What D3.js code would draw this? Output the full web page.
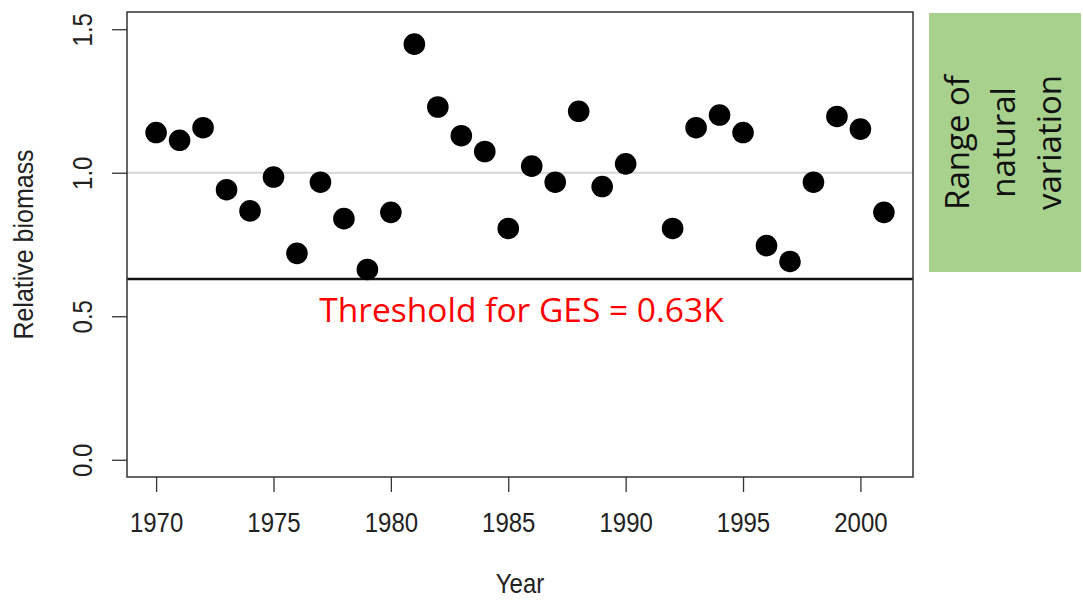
<!DOCTYPE html>
<html><head><meta charset="utf-8">
<script src="https://cdn.jsdelivr.net/npm/d3@7"></script>
<style>body{margin:0;background:#fff}svg{display:block}</style>
</head><body>
<svg id="c" width="1083" height="601"></svg>
<script>
const years = [1970,1971,1972,1973,1974,1975,1976,1977,1978,1979,1980,1981,1982,1983,1984,1985,1986,1987,1988,1989,1990,1992,1993,1994,1995,1996,1997,1998,1999,2000,2001];
const biomass = [1.140,1.113,1.157,0.941,0.867,0.985,0.719,0.967,0.840,0.663,0.862,1.448,1.229,1.129,1.074,0.806,1.023,0.967,1.214,0.952,1.031,0.806,1.157,1.201,1.140,0.746,0.691,0.967,1.196,1.152,0.862];
const xTicks = [1970,1975,1980,1985,1990,1995,2000];
const yTicks = [0.0,0.5,1.0,1.5];
const referenceLevel = 1.0;
const threshold = 0.63;
const thresholdLabel = "Threshold for GES = 0.63K";
const boxLines = ["Range of","natural","variation"];

const svg = d3.select("#c");
const L=127,R=913,T=12,B=477;
const FONT = "Liberation Sans, Arial, sans-serif";
const x = d3.scaleLinear().domain([1968.76,2002.24]).range([L,R]);
const y = d3.scaleLinear().domain([-0.06,1.56]).range([B,T]);

// reference line at 1.0
svg.append("line").attr("x1",L).attr("x2",R).attr("y1",y(referenceLevel)).attr("y2",y(referenceLevel))
  .attr("stroke","#d6d6d6").attr("stroke-width",2);
// threshold line
svg.append("line").attr("x1",L).attr("x2",R).attr("y1",y(threshold)).attr("y2",y(threshold))
  .attr("stroke","#111").attr("stroke-width",2.5);

// points
svg.append("g").selectAll("circle").data(years.map((d,i)=>[d,biomass[i]])).join("circle")
  .attr("cx",d=>x(d[0])).attr("cy",d=>y(d[1])).attr("r",10.8).attr("fill","#000");

// box
svg.append("rect").attr("x",L).attr("y",T).attr("width",R-L).attr("height",B-T)
  .attr("fill","none").attr("stroke","#333").attr("stroke-width",1.5);

// axes
const ax = svg.append("g").attr("transform",`translate(0,${B})`)
  .call(d3.axisBottom(x).tickValues(xTicks).tickFormat(d3.format("d")).tickSize(15));
ax.select(".domain").remove();
ax.selectAll("line").attr("stroke","#333").attr("stroke-width",1.3);
ax.selectAll("text").attr("font-family",FONT).attr("font-size",24).attr("fill","#222")
  .attr("y",0).attr("dy",0).attr("transform","translate(0,55) scale(1,1.12)");

const ay = svg.append("g").attr("transform",`translate(${L},0)`)
  .call(d3.axisLeft(y).tickValues(yTicks).tickFormat(d3.format(".1f")).tickSize(15));
ay.select(".domain").remove();
ay.selectAll("line").attr("stroke","#333").attr("stroke-width",1.3);
ay.selectAll("text").attr("font-family",FONT).attr("font-size",24).attr("fill","#222")
  .attr("x",0).attr("y",0).attr("dy",0).attr("text-anchor","middle")
  .attr("transform","translate(-35,0) rotate(-90) scale(1,1.12)");

svg.append("text").attr("transform",`translate(${(L+R)/2},593) scale(1,1.12)`).attr("text-anchor","middle")
  .attr("font-family",FONT).attr("font-size",24).attr("fill","#222").text("Year");
svg.append("text").attr("transform",`translate(33,${(T+B)/2}) rotate(-90) scale(1,1.08)`).attr("text-anchor","middle")
  .attr("font-family",FONT).attr("font-size",25).attr("fill","#222").text("Relative biomass");

// threshold label
svg.append("text").attr("x",521.5).attr("y",322).attr("text-anchor","middle")
  .attr("font-family","Open Sans, sans-serif").attr("font-size",33.5).attr("fill","#ff0000").text(thresholdLabel);

// green box
svg.append("rect").attr("x",929).attr("y",13).attr("width",152).attr("height",259).attr("fill","#a9d18e");
const g = svg.append("g").attr("transform",`translate(1015,${(13+272)/2}) rotate(-90)`);
g.selectAll("text").data(boxLines).join("text")
  .attr("x",0).attr("y",(d,i)=>(i-1)*46).attr("text-anchor","middle")
  .attr("font-family","Open Sans, sans-serif").attr("font-size",33).attr("fill","#111").text(d=>d);
</script>
</body></html>
